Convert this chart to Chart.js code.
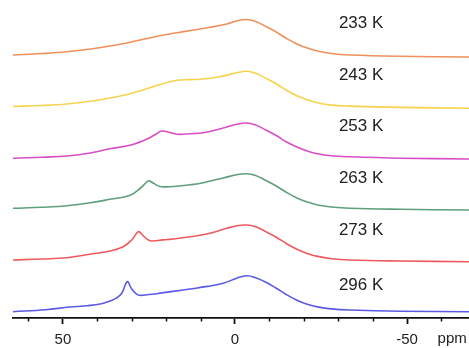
<!DOCTYPE html>
<html><head><meta charset="utf-8">
<script src="https://cdn.jsdelivr.net/npm/chart.js@4"></script>
<style>html,body{margin:0;padding:0;background:#fff;overflow:hidden}</style>
</head><body>
<canvas id="c" width="469" height="348" style="width:469px;height:348px;display:block"></canvas>
<script>
// ---- data ----
const temps = ['233 K', '243 K', '253 K', '263 K', '273 K', '296 K'];
const offsets = [261, 209.7, 159, 108, 56.3, 6.3];        // vertical stacking of spectra
const labelLevels = [295, 243, 191.3, 139.7, 88, 33];      // y-level of temperature labels

const ppm233 = [64.5, 56, 48.8, 42, 36.3, 31, 26.7, 21, 16.9, 12, 7.3, 2.4, -0.5, -3.4, -6, -9, -12, -15, -18, -21, -24, -28, -33.4, -48, -68];
const int233 = [2, 3.5, 5.3, 8, 11, 14.3, 17.7, 21.8, 24.3, 27, 29.7, 33, 36, 37.5, 35.5, 30.5, 25, 18.5, 13, 9, 6, 3.5, 2, 0.7, 0];

const ppm243 = [64.5, 56, 48.8, 42, 36.3, 31, 26.7, 22.5, 19.9, 16.9, 13.5, 10.2, 4.4, -0.5, -3.4, -6, -9, -12, -15, -18, -21, -24, -28, -33.4, -48, -68];
const int243 = [1.8, 2.8, 4.3, 7, 10.3, 14, 18.3, 23, 25.6, 28, 28.7, 29, 31.6, 35.6, 37, 35, 30, 24.5, 18, 12.5, 8.5, 5.5, 3.2, 2.2, 0.9, 0];

const ppm253 = [64.5, 56, 48.8, 42, 36.3, 30.5, 25.7, 22.8, 21.3, 19.4, 16.9, 13, 9.2, 3.4, -0.5, -3.4, -6, -9, -12, -15, -18, -21, -24, -28, -33.4, -48, -68];
const int253 = [0.7, 1.8, 3, 6, 10.3, 13.7, 19.7, 25.3, 28, 27, 24.7, 25.3, 26.3, 31, 34.7, 36, 34, 29, 23.5, 17, 12, 8, 5.2, 3.2, 2.2, 0.8, 0];

const ppm263 = [64.5, 56, 48.8, 42, 36.3, 30.5, 27.1, 25.2, 23.8, 21.8, 19, 16.9, 13, 9.2, 3.4, -0.5, -3.4, -6, -9, -12, -15, -18, -21, -24, -28, -33.4, -48, -68];
const int263 = [1.7, 2.8, 4.3, 7.2, 10.7, 14.7, 23, 29, 27, 23.5, 23.3, 23.7, 25.2, 27.3, 32, 35.3, 36.3, 34.5, 29.5, 24, 17.5, 12, 8, 5, 3, 1.7, 0.7, 0];

const ppm273 = [64.5, 56, 48.8, 42.2, 36.3, 32.5, 30, 28.1, 26.7, 24.7, 21, 17.9, 13, 8.2, 2.4, -0.5, -3.4, -6, -9, -12, -15, -18, -21, -24, -28, -33.4, -48, -68];
const int273 = [1.7, 2.7, 4, 7.4, 10.7, 15, 21.7, 30, 26, 21, 21.8, 22.7, 25, 27.7, 33.4, 36, 36.7, 35, 30, 24.5, 18, 12.5, 8.3, 5.3, 3, 1.7, 0.7, 0];

const ppm296 = [64.5, 55, 48.8, 46, 43, 39.2, 36.3, 34.5, 32.9, 31.3, 30, 28.1, 25, 22.8, 18, 13.1, 8, 3.4, -0.5, -3.4, -6, -9, -12, -15, -18, -21, -24, -28, -33.4, -48, -68];
const int296 = [0, 2, 4.4, 5.2, 6, 7.7, 10.7, 13.5, 18.4, 30, 22.7, 16.7, 17.2, 18, 20.3, 22.7, 25.3, 28.4, 33.5, 36, 34, 29.5, 23.5, 17, 11.5, 7.5, 4.8, 2.8, 1.7, 0.5, 0];

const tickValues = [60, 50, 40, 30, 20, 10, 0, -10, -20, -30, -40, -50, -60];
const majorTicks = [50, 0, -50];
const axisUnit = 'ppm';

// ---- styles ----
const colors = ['#f0915c', '#f6d34c', '#d94ec6', '#5f9f7b', '#ee5a5e', '#5b5ae4'];
const spectra = [[ppm233, int233], [ppm243, int243], [ppm253, int253], [ppm263, int263], [ppm273, int273], [ppm296, int296]];

const datasets = spectra.map(([px, iy], k) => ({
  label: temps[k],
  data: px.map((p, i) => ({ x: p, y: iy[i] + offsets[k] })),
  borderColor: colors[k],
  borderWidth: 1.6,
  pointRadius: 0,
  fill: false,
  tension: 0.4
}));

const FONT = "'Liberation Sans', Arial, sans-serif";

const overlay = {
  id: 'overlay',
  afterDraw(chart) {
    const { ctx } = chart;
    const xs = chart.scales.x, ys = chart.scales.y;
    const y0 = chart.chartArea.bottom;
    ctx.save();
    // minor ticks
    ctx.strokeStyle = '#111';
    ctx.lineWidth = 1.5;
    tickValues.filter(v => !majorTicks.includes(v)).forEach(v => {
      const x = Math.round(xs.getPixelForValue(v)) + 0.5;
      ctx.beginPath(); ctx.moveTo(x, y0); ctx.lineTo(x, y0 + 3.5); ctx.stroke();
    });
    // temperature labels
    ctx.fillStyle = '#222';
    ctx.font = '17px ' + FONT;
    ctx.textBaseline = 'middle';
    ctx.textAlign = 'left';
    temps.forEach((t, k) => {
      ctx.fillText(t, xs.getPixelForValue(-30.2), ys.getPixelForValue(labelLevels[k]));
    });
    // unit label
    ctx.font = '15px ' + FONT;
    ctx.textAlign = 'center';
    ctx.textBaseline = 'alphabetic';
    ctx.fillText(axisUnit, xs.getPixelForValue(-63.1), 342.5);
    ctx.restore();
  }
};

new Chart(document.getElementById('c'), {
  type: 'line',
  data: { datasets },
  options: {
    responsive: false,
    animation: false,
    devicePixelRatio: 1,
    layout: { padding: { left: 13, right: 0, top: 0, bottom: 0 } },
    plugins: { legend: { display: false }, tooltip: { enabled: false } },
    scales: {
      x: {
        type: 'linear',
        reverse: true,
        min: -68,
        max: 64.5,
        afterBuildTicks: s => { s.ticks = tickValues.map(v => ({ value: v })); },
        afterFit: s => { s.height = 30; },
        border: { display: true, color: '#111', width: 1.8 },
        grid: {
          drawOnChartArea: false,
          drawTicks: true,
          tickLength: 6,
          tickWidth: 1.8,
          tickColor: c => majorTicks.includes(c.tick && c.tick.value) ? '#111' : 'rgba(0,0,0,0)'
        },
        ticks: {
          autoSkip: false,
          maxRotation: 0,
          padding: 7,
          color: '#222',
          font: { family: FONT, size: 15 },
          callback: v => majorTicks.includes(v) ? String(v) : ''
        }
      },
      y: { display: false, min: 0, max: 318 }
    }
  },
  plugins: [overlay]
});
</script>
</body></html>
